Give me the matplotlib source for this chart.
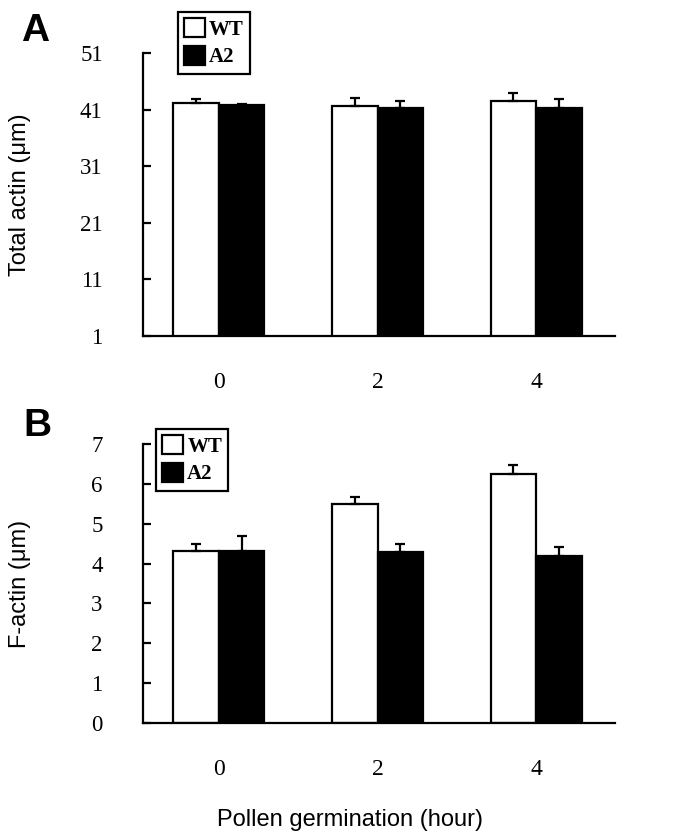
import numpy as np
import matplotlib.pyplot as plt

hours = ["0", "2", "4"]

total_wt = [42.2, 41.65, 42.5]
total_wt_err = [0.75, 1.45, 1.4]
total_a2 = [41.75, 41.2, 41.2]
total_a2_err = [0.25, 1.35, 1.6]

f_wt = [4.31, 5.49, 6.26]
f_wt_err = [0.18, 0.17, 0.21]
f_a2 = [4.31, 4.29, 4.18]
f_a2_err = [0.39, 0.2, 0.24]

serif = "Liberation Serif"
sans = "Liberation Sans"

fig = plt.figure(figsize=(6.77, 8.4), dpi=100)
ax_a = fig.add_axes([0.2112, 0.6, 0.6972, 0.3369])
ax_b = fig.add_axes([0.2112, 0.1393, 0.6972, 0.3321])

x = np.arange(len(hours))
w = 0.287


def panel(ax, wt, wt_err, a2, a2_err, ylim, yticks, ylabel, leg_pos):
    ax.bar(x - w / 2, wt, w, color="white", edgecolor="black", linewidth=1.6,
           label="WT", zorder=2)
    ax.bar(x + w / 2, a2, w, color="black", edgecolor="black", linewidth=1.6,
           label="A2", zorder=2)
    ax.errorbar(x - w / 2, wt, yerr=[np.zeros(3), wt_err], fmt="none",
                ecolor="black", elinewidth=1.6, capsize=3.6, capthick=1.6, zorder=3)
    ax.errorbar(x + w / 2, a2, yerr=[np.zeros(3), a2_err], fmt="none",
                ecolor="black", elinewidth=1.6, capsize=3.6, capthick=1.6, zorder=3)
    ax.set_xlim(-0.4795, 2.498)
    ax.set_ylim(*ylim)
    ax.set_yticks(yticks)
    ax.set_xticks(x)
    ax.set_xticklabels(hours, fontfamily=serif, fontsize=17)
    for lab in ax.get_yticklabels():
        lab.set_fontfamily(serif)
        lab.set_fontsize(16.5)
    ax.tick_params(axis="y", direction="in", length=6, width=1.6, pad=29)
    ax.tick_params(axis="x", length=0, pad=26)
    for s in ["top", "right"]:
        ax.spines[s].set_visible(False)
    for s in ["left", "bottom"]:
        ax.spines[s].set_linewidth(1.6)
    ax.set_ylabel(ylabel, fontfamily=sans, fontsize=17)
    ax.yaxis.set_label_coords(-0.237, 0.5)
    leg = ax.legend(loc="upper left", bbox_to_anchor=leg_pos, frameon=True,
                    fancybox=False, edgecolor="black", framealpha=1,
                    prop={"family": serif, "size": 15, "weight": "bold"},
                    handlelength=1.0, handleheight=1.0, handletextpad=0.2,
                    labelspacing=0.3, borderpad=0.3, borderaxespad=0)
    leg.get_frame().set_linewidth(1.6)


panel(ax_a, total_wt, total_wt_err, total_a2, total_a2_err, (1, 51),
      [1, 11, 21, 31, 41, 51], "Total actin (\u03bcm)", (0.074, 1.145))
panel(ax_b, f_wt, f_wt_err, f_a2, f_a2_err, (0, 7),
      [0, 1, 2, 3, 4, 5, 6, 7], "F-actin (\u03bcm)", (0.0275, 1.054))

fig.text(350 / 677, 1 - 820 / 840, "Pollen germination (hour)", fontfamily=sans,
         fontsize=17, ha="center", va="center")
fig.text(21 / 677, 1 - 13 / 840, "A", fontfamily=sans, fontsize=28,
         fontweight="bold", ha="left", va="top")
fig.text(23 / 677, 1 - 408 / 840, "B", fontfamily=sans, fontsize=28,
         fontweight="bold", ha="left", va="top")

fig.savefig("out.png", dpi=100)
